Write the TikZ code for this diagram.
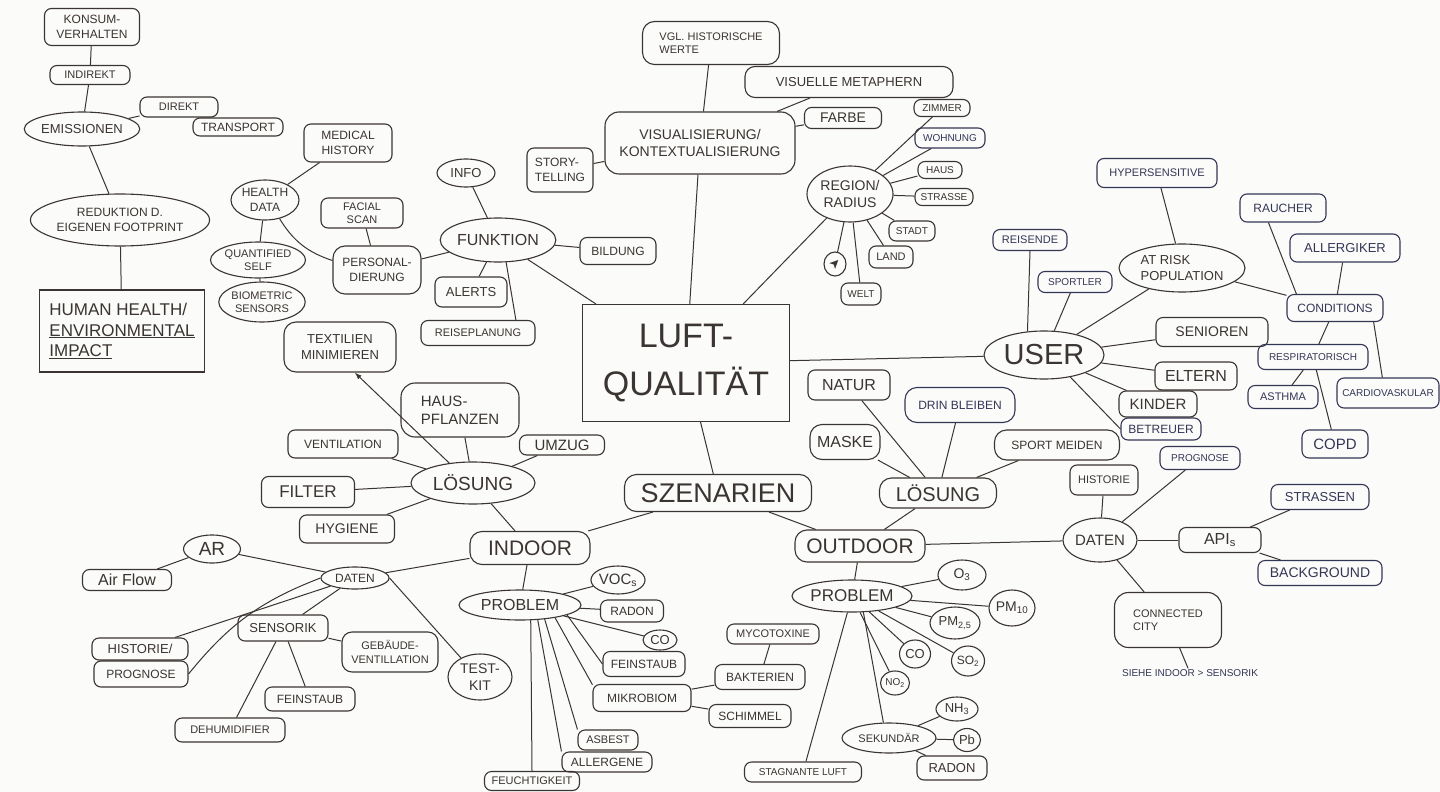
\documentclass[tikz,border=0pt]{standalone}
\usepackage{fontspec}
\usepackage{graphicx}
\setmainfont{Liberation Sans}
\newfontfamily\symfont{DejaVu Sans}
\usetikzlibrary{arrows.meta,positioning,shapes.geometric}
\definecolor{Ink}{RGB}{58,52,50}
\definecolor{InkBlue}{RGB}{52,54,86}
\definecolor{Paper}{RGB}{251,251,249}
\tikzset{
  fs/.code={\pgfmathsetmacro\fsbase{1.22*#1}\tikzset{font/.expanded={\noexpand\fontsize{#1}{\fsbase}\noexpand\selectfont}}},
  pen/.style={draw=Ink,text=Ink,line width=1.1pt},
  bub/.style={pen,ellipse,inner sep=0pt,align=center},
  pill/.style={pen,rounded corners=7pt,inner sep=2pt,align=center},
  sq/.style={pen,rectangle,inner sep=4pt},
  wh/.style 2 args={minimum width=#1,minimum height=#2},
  blu/.style={draw=InkBlue,text=InkBlue},
  link/.style={draw=Ink,line width=1pt},
}
\begin{document}
\begin{tikzpicture}[x=1pt,y=-1pt,>=Latex]
\useasboundingbox (0,0) rectangle (1440,792);
\fill[Paper] (0,0) rectangle (1440,792);
% centre
\node[sq,fs=34,wh={207}{117},align=center] (luft) at (686,363) {LUFT-\\[6pt]QUALITÄT};
% emissionen
\node[pill,fs=12,wh={95}{37}] (konsum) at (92,27) {KONSUM-\\VERHALTEN};
\node[pill,fs=11,wh={80}{19}] (indirekt) at (90,75) {INDIREKT};
\node[bub,fs=13,wh={115}{34}] (emiss) at (82,129) {EMISSIONEN};
\node[pill,fs=11,wh={78}{20}] (direkt) at (179,107) {DIREKT};
\node[pill,fs=12,wh={90}{18}] (transp) at (238,127) {TRANSPORT};
\node[bub,fs=12,wh={178}{52}] (redukt) at (120,220) {REDUKTION D.\\EIGENEN FOOTPRINT};
\node[sq,fs=17,wh={165}{82},align=left] (human) at (122,331) {HUMAN HEALTH/\\\underline{ENVIRONMENTAL}\\\underline{IMPACT}};
% health data
\node[pill,fs=12,wh={88}{38}] (medhist) at (348,143) {MEDICAL\\HISTORY};
\node[bub,fs=12,wh={68}{40}] (health) at (265,200) {HEALTH\\DATA};
\node[bub,fs=11,wh={95}{36}] (qself) at (258,260) {QUANTIFIED\\SELF};
\node[bub,fs=11,wh={86}{40}] (biom) at (262,302) {BIOMETRIC\\SENSORS};
\node[pill,fs=11,wh={82}{30}] (facial) at (362,213) {FACIAL\\SCAN};
\node[pill,fs=12,wh={88}{48},rounded corners=12pt] (person) at (377,270) {PERSONAL-\\DIERUNG};
% funktion
\node[bub,fs=16,wh={112}{44}] (funk) at (498,240) {FUNKTION};
\node[bub,fs=13,wh={58}{28}] (info) at (466,173) {INFO};
\node[pill,fs=12,wh={76}{27}] (bild) at (618,251) {BILDUNG};
\node[pill,fs=13,wh={72}{30}] (alerts) at (471,292) {ALERTS};
\node[pill,fs=11,wh={114}{25}] (reise) at (478,333) {REISEPLANUNG};
% visualisierung
\node[pill,fs=14,wh={190}{62},rounded corners=14pt] (vis) at (700,143) {VISUALISIERUNG/\\KONTEXTUALISIERUNG};
\node[pill,fs=11,wh={137}{43},align=left,rounded corners=12pt] (vgl) at (711,43) {VGL. HISTORISCHE\\WERTE};
\node[pill,fs=13,wh={208}{31},rounded corners=10pt] (meta) at (849,82) {VISUELLE METAPHERN};
\node[pill,fs=14,wh={77}{21}] (farbe) at (843,118) {FARBE};
\node[pill,fs=12,wh={66}{44},align=left] (story) at (560,170) {STORY-\\TELLING};
% region
\node[bub,fs=14,wh={86}{56}] (region) at (850,194) {REGION/\\RADIUS};
\node[pill,fs=10,wh={56}{17}] (zimmer) at (942,108) {ZIMMER};
\node[pill,fs=10,wh={70}{20},blu] (wohnung) at (950,138) {WOHNUNG};
\node[pill,fs=10,wh={44}{17}] (haus) at (940,170) {HAUS};
\node[pill,fs=10,wh={58}{17}] (strasse) at (944,197) {STRASSE};
\node[pill,fs=10,wh={46}{20}] (stadt) at (912,231) {STADT};
\node[pill,fs=11,wh={44}{22}] (land) at (891,257) {LAND};
\node[pill,fs=10,wh={40}{22}] (welt) at (861,294) {WELT};
\node[bub,fs=13,wh={22}{24}] (pin) at (835,264) {\rotatebox{45}{\symfont ➤}};
% user
\node[bub,fs=29,wh={120}{48}] (user) at (1044,355) {USER};
\node[pill,fs=11,wh={74}{21},blu] (reisende) at (1030,240) {REISENDE};
\node[pill,fs=10,wh={74}{21},blu] (sportler) at (1075,282) {SPORTLER};
\node[bub,fs=13,wh={126}{48},align=left] (atrisk) at (1182,268) {AT RISK\\POPULATION};
\node[pill,fs=11,wh={120}{29},blu] (hyper) at (1157,173) {HYPERSENSITIVE};
\node[pill,fs=14,wh={112}{29}] (senioren) at (1212,332) {SENIOREN};
\node[pill,fs=16,wh={82}{28}] (eltern) at (1196,376) {ELTERN};
\node[pill,fs=15,wh={78}{26}] (kinder) at (1158,404) {KINDER};
\node[pill,fs=12,wh={80}{22},blu] (betreuer) at (1161,429) {BETREUER};
\node[pill,fs=12,wh={96}{27},blu] (cond) at (1335,308) {CONDITIONS};
\node[pill,fs=12,wh={86}{28},blu] (raucher) at (1283,208) {RAUCHER};
\node[pill,fs=13,wh={110}{28},blu] (allerg) at (1345,248) {ALLERGIKER};
\node[pill,fs=10,wh={110}{25},blu] (resp) at (1313,357) {RESPIRATORISCH};
\node[pill,fs=11,wh={70}{23},blu] (asthma) at (1283,397) {ASTHMA};
\node[pill,fs=10,wh={102}{30},blu] (cardio) at (1388,393) {CARDIOVASKULAR};
\node[pill,fs=15,wh={66}{28},blu] (copd) at (1335,444) {COPD};
% szenarien
\node[pill,fs=27,wh={187}{37},rounded corners=12pt] (szen) at (718,493) {SZENARIEN};
% indoor
\node[pill,fs=21,wh={120}{33},rounded corners=12pt] (indoor) at (530,548) {INDOOR};
\node[bub,fs=19,wh={124}{42}] (losi) at (473,483) {LÖSUNG};
\node[pill,fs=13,wh={112}{50},rounded corners=12pt] (textil) at (340,347) {TEXTILIEN\\MINIMIEREN};
\node[pill,fs=15,wh={118}{54},rounded corners=14pt,align=left] (hausp) at (460,410) {HAUS-\\PFLANZEN};
\node[pill,fs=12,wh={110}{28}] (ventil) at (343,444) {VENTILATION};
\node[pill,fs=15,wh={85}{20}] (umzug) at (562,445) {UMZUG};
\node[pill,fs=17,wh={93}{31}] (filter) at (308,492) {FILTER};
\node[pill,fs=14,wh={95}{28}] (hygiene) at (347,529) {HYGIENE};
\node[bub,fs=12,wh={68}{22}] (datin) at (355,578) {DATEN};
\node[bub,fs=19,wh={57}{28}] (ar) at (212,549) {AR};
\node[pill,fs=16,wh={89}{21}] (airflow) at (127,580) {Air Flow};
\node[pill,fs=13,wh={96}{22}] (hist) at (140,649) {HISTORIE/};
\node[pill,fs=12,wh={94}{26}] (prog) at (141,674) {PROGNOSE};
\node[pill,fs=13,wh={90}{26}] (sens) at (283,628) {SENSORIK};
\node[pill,fs=11,wh={96}{40},rounded corners=10pt] (gebaeude) at (390,652) {GEBÄUDE-\\VENTILLATION};
\node[bub,fs=14,wh={64}{46}] (testkit) at (480,677) {TEST-\\KIT};
\node[pill,fs=12,wh={90}{24}] (feinin) at (310,699) {FEINSTAUB};
\node[pill,fs=11,wh={110}{24}] (dehum) at (230,730) {DEHUMIDIFIER};
\node[bub,fs=16,wh={122}{30}] (probin) at (520,605) {PROBLEM};
\node[bub,fs=15,wh={53}{28}] (vocs) at (618,580) {VOC\textsubscript{s}};
\node[pill,fs=12,wh={63}{22}] (radonin) at (632,611) {RADON};
\node[bub,fs=13,wh={34}{20}] (coin) at (660,640) {CO};
\node[pill,fs=12,wh={82}{25}] (feinprob) at (644,664) {FEINSTAUB};
\node[pill,fs=12,wh={98}{27}] (mikro) at (642,698) {MIKROBIOM};
\node[pill,fs=11,wh={92}{20}] (myco) at (773,634) {MYCOTOXINE};
\node[pill,fs=12,wh={90}{25}] (bakt) at (760,677) {BAKTERIEN};
\node[pill,fs=12,wh={82}{23}] (schim) at (750,716) {SCHIMMEL};
\node[pill,fs=11,wh={60}{20}] (asbest) at (608,740) {ASBEST};
\node[pill,fs=12,wh={90}{20}] (allerge) at (607,762) {ALLERGENE};
\node[pill,fs=11,wh={95}{19}] (feucht) at (532,781) {FEUCHTIGKEIT};
% outdoor
\node[pill,fs=21,wh={130}{32},rounded corners=12pt] (outdoor) at (860,546) {OUTDOOR};
\node[pill,fs=20,wh={117}{30},rounded corners=12pt] (loso) at (938,493) {LÖSUNG};
\node[pill,fs=16,wh={82}{30}] (natur) at (849,385) {NATUR};
\node[pill,fs=12,wh={110}{35},rounded corners=12pt,blu] (drin) at (960,405) {DRIN BLEIBEN};
\node[pill,fs=16,wh={70}{35},rounded corners=12pt] (maske) at (845,442) {MASKE};
\node[pill,fs=12,wh={125}{30},rounded corners=12pt] (sport) at (1057,445) {SPORT MEIDEN};
\node[bub,fs=17,wh={120}{32}] (probout) at (852,596) {PROBLEM};
\node[bub,fs=14,wh={48}{30}] (o3) at (962,575) {O\textsubscript{3}};
\node[bub,fs=14,wh={46}{36}] (pm10) at (1012,608) {PM\textsubscript{10}};
\node[bub,fs=13,wh={50}{32}] (pm25) at (955,623) {PM\textsubscript{2,5}};
\node[bub,fs=12,wh={33}{30}] (so2) at (968,661) {SO\textsubscript{2}};
\node[bub,fs=13,wh={31}{28}] (coout) at (915,654) {CO};
\node[bub,fs=10,wh={29}{24}] (no2) at (895,683) {NO\textsubscript{2}};
\node[bub,fs=11,wh={94}{30}] (sek) at (889,738) {SEKUNDÄR};
\node[bub,fs=13,wh={42}{24}] (nh3) at (957,709) {NH\textsubscript{3}};
\node[bub,fs=13,wh={27}{23}] (pb) at (967,740) {Pb};
\node[pill,fs=13,wh={70}{24}] (radonout) at (952,768) {RADON};
\node[pill,fs=10,wh={117}{20}] (stag) at (803,772) {STAGNANTE LUFT};
\node[bub,fs=15,wh={74}{44}] (datout) at (1100,540) {DATEN};
\node[pill,fs=11,wh={68}{30}] (histo) at (1104,480) {HISTORIE};
\node[pill,fs=10,wh={80}{23},blu] (progo) at (1200,458) {PROGNOSE};
\node[pill,fs=16,wh={82}{25}] (apis) at (1220,540) {API\textsubscript{s}};
\node[pill,fs=13,wh={98}{25},blu] (strassen) at (1320,497) {STRASSEN};
\node[pill,fs=14,wh={124}{25},blu] (backg) at (1320,573) {BACKGROUND};
\node[pill,fs=11,wh={107}{55},rounded corners=14pt,align=left] (city) at (1168,620) {CONNECTED\\CITY};
\node[fs=10,text=InkBlue,inner sep=1pt] (siehe) at (1190,673) {SIEHE INDOOR > SENSORIK};
% connectors
\foreach \a/\b in {konsum/indirekt,indirekt/emiss,emiss/direkt,direkt/transp,emiss/redukt,redukt/human,
  health/medhist,health/qself,qself/biom,facial/person,person/funk,
  funk/info,funk/bild,funk/alerts,funk/luft,
  vis/vgl,vis/meta,vis/farbe,vis/story,vis/luft,
  region/zimmer,region/wohnung,region/haus,region/strasse,region/stadt,region/land,region/welt,region/pin,region/luft,
  luft/user,user/sportler,user/atrisk,atrisk/hyper,atrisk/cond,cond/allerg,cond/resp,resp/asthma,resp/copd,
  user/senioren,user/eltern,user/kinder,eltern/kinder,
  luft/szen,szen/indoor,szen/outdoor,
  indoor/losi,losi/hausp,losi/ventil,losi/umzug,losi/filter,losi/hygiene,
  indoor/datin,datin/ar,ar/airflow,datin/hist,datin/sens,sens/gebaeude,sens/feinin,sens/dehum,
  indoor/probin,probin/vocs,probin/radonin,probin/coin,
  mikro/bakt,mikro/schim,bakt/myco,
  outdoor/loso,loso/natur,loso/drin,loso/maske,loso/sport,
  outdoor/probout,probout/o3,probout/pm10,probout/pm25,probout/so2,probout/coout,probout/no2,probout/stag,
  sek/nh3,sek/pb,sek/radonout,
  outdoor/datout,datout/histo,datout/progo,datout/apis,apis/strassen,apis/backg,datout/city,city/siehe}
  \draw[link] (\a) -- (\b);
\draw[link] (health) to[bend right=20] (person);
\draw[link] (funk.-70) -- (reise.19);
\draw[link] (user.125) -- (reisende.south);
\draw[link] (raucher.-135) -- (cond.160);
\draw[link] (cond.-20) -- (cardio.110);
\draw[link] (user.-40) -- (betreuer.west);
\draw[link] (datin.west) to[bend right=15] (prog.east);
\draw[link] (datin.east) -- (testkit.135);
\draw[link] (probin.-12) -- (feinprob.west);
\draw[link] (probin.-20) -- (mikro.165);
\draw[link] (probin.-30) -- (asbest.north west);
\draw[link] (probin.-40) -- (allerge.north west);
\draw[link] (probin.-55) -- (feucht.north);
\draw[link] (probout.-55) -- (sek.110);
\draw[link,-{Latex[length=7pt,width=5pt]}] (losi.140) -- (textil.-60);
\end{tikzpicture}
\end{document}
